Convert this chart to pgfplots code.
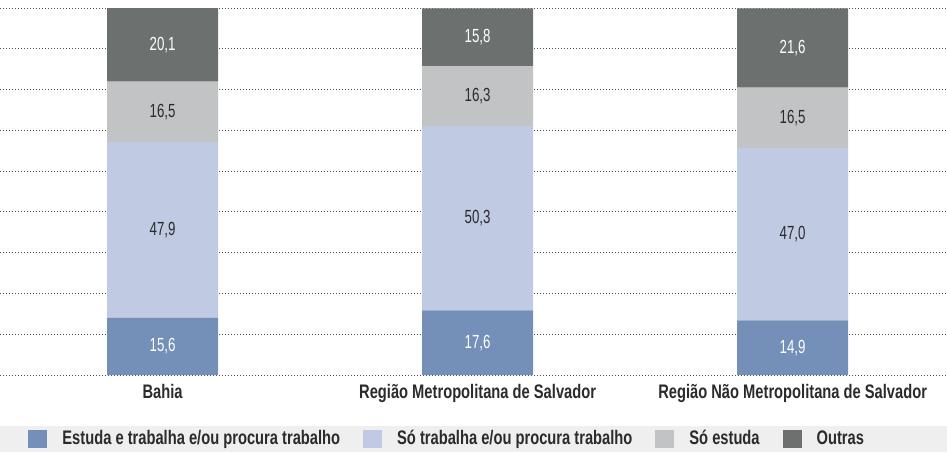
\documentclass[border=0pt]{standalone}
\usepackage{pgfplots}
\pgfplotsset{compat=1.18}
\usepackage{fontspec}
\setmainfont{Liberation Sans}[FakeStretch=0.75]
\newfontfamily\valfont{Liberation Sans}[FakeStretch=0.70]
\definecolor{cEst}{HTML}{7590B8}
\definecolor{cTrab}{HTML}{C0CAE2}
\definecolor{cSo}{HTML}{C2C3C4}
\definecolor{cOut}{HTML}{6C7170}
\definecolor{txt}{HTML}{2B2B2B}
\definecolor{band}{HTML}{EFEFEF}

\begin{document}
\begin{tikzpicture}[x=1pt,y=1pt]
\path[use as bounding box] (0,0) rectangle (473.5,-226);
\fill[band] (0,-213) rectangle (473.5,-226);
\begin{axis}[
    at={(0pt,-4pt)}, anchor=north west,
    scale only axis, width=473.5pt, height=183.5pt,
    ybar stacked, bar width=55.5pt,
    xmin=-0.516, xmax=2.49, ymin=0, ymax=100.1,
    axis line style={draw=none},
    major tick length=0pt,
    xtick={0,1,2},
    xticklabels={Bahia, Região Metropolitana de Salvador, Região Não Metropolitana de Salvador},
    xticklabel style={anchor=base, inner sep=0pt, yshift=-11.5pt,
        font=\bfseries\fontsize{9.8}{11}\selectfont, text=txt},
    ytick={0,11.12,22.24,33.37,44.49,55.61,66.73,77.86,88.98,100.1},
    yticklabels={},
    ymajorgrids,
    major grid style={draw=black!70, line width=0.5pt, dash pattern=on 0.5pt off 1pt},
    point meta=rawy,
    nodes near coords={\pgfmathprintnumber{\pgfplotspointmeta}},
    every node near coord/.append style={anchor=center,
        font=\valfont\fontsize{9.5}{11}\selectfont},
    /pgf/number format/use comma,
    /pgf/number format/fixed,
    /pgf/number format/fixed zerofill,
    /pgf/number format/precision=1,
    /pgf/number format/assume math mode=true,
    legend columns=4,
    legend image code/.code={\fill[#1] (0pt,-4.6pt) rectangle (9.5pt,4.6pt);},
    legend style={at={(0.0296,-0.1744)}, anchor=west, draw=none, fill=none,
        inner sep=0pt, font=\bfseries\fontsize{9.8}{11}\selectfont, text=txt,
        nodes={inner sep=0pt},
        /tikz/every odd column/.append style={column sep=7.5pt},
        /tikz/every even column/.append style={column sep=11.5pt}},
]
\addplot[fill=cEst, draw=none, every node near coord/.append style={text=white}]
    coordinates {(0,15.6) (1,17.6) (2,14.9)};
\addplot[fill=cTrab, draw=none, every node near coord/.append style={text=txt}]
    coordinates {(0,47.9) (1,50.3) (2,47.0)};
\addplot[fill=cSo, draw=none, every node near coord/.append style={text=txt}]
    coordinates {(0,16.5) (1,16.3) (2,16.5)};
\addplot[fill=cOut, draw=none, every node near coord/.append style={text=white}]
    coordinates {(0,20.1) (1,15.8) (2,21.6)};
\legend{Estuda e trabalha e/ou procura trabalho, Só trabalha e/ou procura trabalho, Só estuda, Outras}
\end{axis}
\end{tikzpicture}
\end{document}
